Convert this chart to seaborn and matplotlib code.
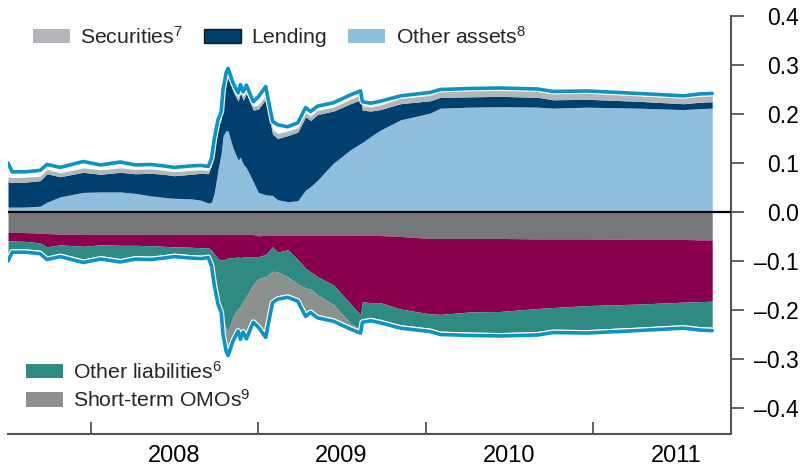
import numpy as np
import pandas as pd
import seaborn as sns
import matplotlib
matplotlib.use("Agg")
import matplotlib.pyplot as plt
import matplotlib.dates as mdates
import matplotlib.patheffects as pe
from matplotlib.patches import Patch
from matplotlib.ticker import FuncFormatter

# values (share of GDP-like ratio)
dates = ["2007-07-05", "2007-07-14", "2007-08-12", "2007-09-13", "2007-09-28", "2007-10-27", "2007-12-16",
         "2008-01-23", "2008-03-06", "2008-04-08", "2008-05-11", "2008-06-09", "2008-07-01", "2008-08-07",
         "2008-08-29", "2008-09-14", "2008-09-21", "2008-09-27", "2008-10-05", "2008-10-12", "2008-10-16",
         "2008-10-23", "2008-10-27", "2008-11-07", "2008-11-18", "2008-11-23", "2008-11-29", "2008-12-06",
         "2008-12-21", "2009-01-01", "2009-01-17", "2009-02-01", "2009-02-12", "2009-03-06", "2009-03-28",
         "2009-04-14", "2009-04-25", "2009-05-10", "2009-06-14", "2009-07-21", "2009-08-12", "2009-08-16",
         "2009-09-03", "2009-09-24", "2009-11-07", "2010-01-11", "2010-02-02", "2010-04-08", "2010-06-13",
         "2010-09-02", "2010-10-06", "2010-12-19", "2011-04-08", "2011-07-17", "2011-08-23", "2011-09-18"]

total = [0.100, 0.082, 0.082, 0.085, 0.097, 0.091, 0.103, 0.096, 0.102, 0.096, 0.097, 0.094, 0.091, 0.094,
         0.095, 0.093, 0.110, 0.150, 0.188, 0.205, 0.250, 0.285, 0.293, 0.263, 0.243, 0.260, 0.245, 0.259,
         0.225, 0.235, 0.256, 0.185, 0.178, 0.174, 0.182, 0.213, 0.205, 0.216, 0.223, 0.239, 0.247, 0.225,
         0.222, 0.226, 0.237, 0.244, 0.250, 0.252, 0.253, 0.251, 0.246, 0.247, 0.242, 0.237, 0.241, 0.242]

# assets
other_assets = [0.010, 0.010, 0.010, 0.012, 0.020, 0.031, 0.040, 0.041, 0.041, 0.038, 0.033, 0.030, 0.028, 0.027,
                0.024, 0.018, 0.020, 0.040, 0.086, 0.120, 0.155, 0.167, 0.165, 0.130, 0.106, 0.112, 0.098, 0.090,
                0.062, 0.040, 0.035, 0.034, 0.025, 0.021, 0.023, 0.045, 0.052, 0.065, 0.100, 0.127, 0.140, 0.142,
                0.154, 0.167, 0.188, 0.202, 0.212, 0.214, 0.215, 0.214, 0.212, 0.214, 0.212, 0.209, 0.211, 0.212]
lending = [0.052, 0.050, 0.051, 0.052, 0.058, 0.041, 0.041, 0.036, 0.040, 0.040, 0.046, 0.047, 0.046, 0.050,
           0.055, 0.060, 0.076, 0.095, 0.086, 0.069, 0.079, 0.101, 0.111, 0.116, 0.120, 0.131, 0.130, 0.152,
           0.146, 0.170, 0.195, 0.125, 0.125, 0.135, 0.140, 0.149, 0.135, 0.134, 0.106, 0.094, 0.089, 0.066,
           0.052, 0.042, 0.033, 0.025, 0.022, 0.021, 0.021, 0.020, 0.017, 0.016, 0.014, 0.012, 0.013, 0.013]
securities = [0.010, 0.010, 0.010, 0.009, 0.009, 0.008, 0.009, 0.009, 0.009, 0.009, 0.009, 0.008, 0.008, 0.008,
              0.007, 0.007, 0.007, 0.007, 0.008, 0.008, 0.008, 0.008, 0.008, 0.008, 0.008, 0.008, 0.008, 0.008,
              0.008, 0.008, 0.009, 0.009, 0.010, 0.009, 0.009, 0.009, 0.009, 0.008, 0.008, 0.009, 0.009, 0.009,
              0.008, 0.009, 0.011, 0.011, 0.012, 0.013, 0.013, 0.013, 0.013, 0.013, 0.012, 0.012, 0.013, 0.013]

# liabilities
currency = [0.041, 0.041, 0.042, 0.043, 0.044, 0.045, 0.046, 0.046, 0.046, 0.046, 0.046, 0.046, 0.046, 0.046,
            0.046, 0.046, 0.046, 0.046, 0.046, 0.046, 0.046, 0.046, 0.046, 0.046, 0.046, 0.046, 0.046, 0.046,
            0.046, 0.049, 0.047, 0.047, 0.047, 0.047, 0.047, 0.047, 0.047, 0.047, 0.047, 0.047, 0.048, 0.048,
            0.048, 0.048, 0.050, 0.054, 0.054, 0.054, 0.054, 0.055, 0.055, 0.055, 0.056, 0.056, 0.057, 0.057]
reserves = [0.018, 0.018, 0.018, 0.020, 0.027, 0.022, 0.024, 0.021, 0.022, 0.022, 0.023, 0.024, 0.025, 0.026,
            0.027, 0.027, 0.032, 0.040, 0.049, 0.052, 0.052, 0.050, 0.048, 0.047, 0.046, 0.047, 0.046, 0.046,
            0.046, 0.042, 0.040, 0.024, 0.035, 0.030, 0.050, 0.068, 0.075, 0.085, 0.102, 0.140, 0.162, 0.135,
            0.137, 0.137, 0.148, 0.154, 0.155, 0.150, 0.149, 0.142, 0.140, 0.136, 0.132, 0.128, 0.126, 0.125]
other_liab = [0.030, 0.016, 0.015, 0.015, 0.019, 0.017, 0.026, 0.022, 0.027, 0.021, 0.021, 0.017, 0.013, 0.015,
              0.015, 0.013, 0.020, 0.040, 0.070, 0.098, 0.125, 0.140, 0.150, 0.120, 0.105, 0.100, 0.090, 0.080,
              0.055, 0.045, 0.045, 0.050, 0.040, 0.055, 0.050, 0.040, 0.035, 0.037, 0.040, 0.040, 0.030, 0.035,
              0.030, 0.034, 0.032, 0.029, 0.034, 0.041, 0.043, 0.047, 0.044, 0.049, 0.047, 0.046, 0.051, 0.053]
omo = [0, 0, 0, 0, 0, 0, 0, 0, 0, 0, 0, 0, 0, 0,
       0, 0, 0.005, 0.017, 0.016, 0.002, 0.020, 0.042, 0.042, 0.043, 0.039, 0.060, 0.056, 0.080,
       0.071, 0.092, 0.117, 0.057, 0.049, 0.035, 0.028, 0.051, 0.041, 0.040, 0.027, 0.005, 0, 0,
       0, 0, 0, 0, 0, 0, 0, 0, 0, 0, 0, 0, 0, 0]

top_labels = ["Securities$^7$", "Lending", "Other assets$^8$"]
bottom_labels = ["Other liabilities$^6$", "Short-term OMOs$^9$"]

c_other_assets = "#90bfdd"
c_lending = "#00406e"
c_securities = "#b3b5b8"
c_currency = "#76777b"
c_reserves = "#8a004f"
c_other_liab = "#2f8a82"
c_omo = "#8d918d"
c_total = "#0b93c3"
axis_grey = "#555555"

sns.set_theme(style="white")
plt.rcParams["font.family"] = ["Liberation Sans", "DejaVu Sans"]
plt.rcParams["mathtext.default"] = "regular"

x = pd.to_datetime(dates)
tot = np.array(total)

fig = plt.figure(figsize=(8.06, 4.69), dpi=100)
ax = fig.add_axes([8 / 806, 35 / 469, 723 / 806, 418 / 469])

ax.stackplot(x, other_assets, lending, securities,
             colors=[c_other_assets, c_lending, c_securities], linewidth=0)
ax.stackplot(x, -np.array(currency), -np.array(reserves), -np.array(other_liab), -np.array(omo),
             colors=[c_currency, c_reserves, c_other_liab, c_omo], linewidth=0)
ax.axhline(0, color="black", lw=1.6, zorder=3)

halo = [pe.Stroke(linewidth=4.2, foreground="white"), pe.Normal()]
sns.lineplot(x=x, y=tot, ax=ax, color=c_total, lw=2.6, path_effects=halo, zorder=4)
sns.lineplot(x=x, y=-tot, ax=ax, color=c_total, lw=2.6, path_effects=halo, zorder=4)

ax.set_xlim(pd.Timestamp("2007-07-05"), pd.Timestamp("2011-10-29"))
ax.set_ylim(-0.4531, 0.4)
ax.set_xlabel("")
ax.set_ylabel("")

# x axis: year boundaries as inward ticks, labels mid-year
ax.xaxis.set_major_locator(mdates.YearLocator())
ax.xaxis.set_major_formatter(plt.NullFormatter())
ax.xaxis.set_minor_locator(mdates.MonthLocator(bymonth=7, bymonthday=1))
ax.xaxis.set_minor_formatter(mdates.DateFormatter("%Y"))
ax.tick_params(axis="x", which="major", direction="in", length=9, width=1.3, color=axis_grey, bottom=True)
ax.tick_params(axis="x", which="minor", length=0, pad=8, labelsize=17, labelcolor="black", bottom=True)

# y axis on the right
ax.yaxis.tick_right()
ax.set_yticks(np.round(np.arange(-0.4, 0.41, 0.1), 1))
ax.yaxis.set_major_formatter(FuncFormatter(lambda v, p: f"{v:.1f}".replace("-", "\u2013") if abs(v) > 1e-9 else "0.0"))
ax.tick_params(axis="y", which="major", direction="out", length=9, width=1.3, color=axis_grey,
               right=True, left=False, pad=40, labelsize=16.5, labelcolor="black")
for lab in ax.get_yticklabels():
    lab.set_horizontalalignment("right")

for s in ["top", "left"]:
    ax.spines[s].set_visible(False)
for s in ["right", "bottom"]:
    ax.spines[s].set_color(axis_grey)
    ax.spines[s].set_linewidth(1.5)
ax.grid(False)

top_handles = [Patch(facecolor=c_securities, edgecolor="none"),
               Patch(facecolor=c_lending, edgecolor="#1a1a1a", linewidth=1),
               Patch(facecolor=c_other_assets, edgecolor="none")]
leg1 = ax.legend(top_handles, top_labels, loc="center left", bbox_to_anchor=(0.0346, 0.951), ncol=3,
                 frameon=False, fontsize=15.3, handlelength=1.72, handleheight=0.65, handletextpad=0.5,
                 columnspacing=1.0, borderpad=0, borderaxespad=0)
ax.add_artist(leg1)

bottom_handles = [Patch(facecolor=c_other_liab, edgecolor="none"),
                  Patch(facecolor=c_omo, edgecolor="none")]
ax.legend(bottom_handles, bottom_labels, loc="center left", bbox_to_anchor=(0.0249, 0.1153), ncol=1,
          frameon=False, fontsize=15.3, handlelength=1.72, handleheight=0.65, handletextpad=0.5,
          labelspacing=0.3, borderpad=0, borderaxespad=0)

fig.savefig("out.png", dpi=100)
